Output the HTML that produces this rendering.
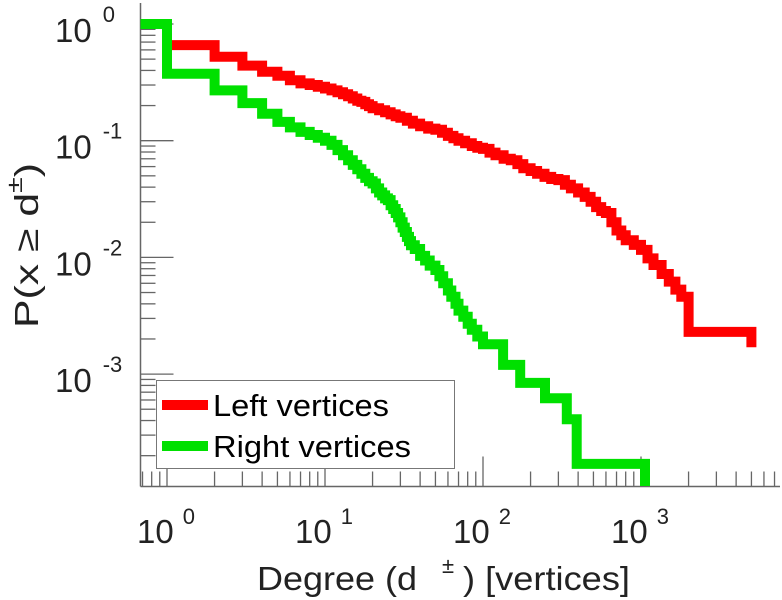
<!DOCTYPE html>
<html><head><meta charset="utf-8"><style>
html,body{margin:0;padding:0;background:#fff;}
svg{display:block;font-family:"Liberation Sans",sans-serif;}
</style></head><body>
<svg id="chart" width="782" height="600" viewBox="0 0 782 600" xmlns="http://www.w3.org/2000/svg">
<g id="axes"></g>
<g id="series"></g>
<g id="legend">
  <rect x="156.5" y="380.5" width="298" height="88" fill="#fff" stroke="#777" stroke-width="1"/>
  <line x1="162" y1="405" x2="208" y2="405" stroke="#ff0000" stroke-width="10"/>
  <text x="213" y="416" font-size="31" textLength="176" lengthAdjust="spacingAndGlyphs" fill="#000">Left vertices</text>
  <line x1="162" y1="446" x2="208" y2="446" stroke="#00e000" stroke-width="10"/>
  <text x="213" y="457" font-size="31" textLength="198" lengthAdjust="spacingAndGlyphs" fill="#000">Right vertices</text>
</g>
<g fill="#222">
  <text x="257" y="590" font-size="33" textLength="160" lengthAdjust="spacingAndGlyphs">Degree (d</text>
  <text x="442" y="573" font-size="22">±</text>
  <text x="463" y="590" font-size="33" textLength="167" lengthAdjust="spacingAndGlyphs">) [vertices]</text>
</g>
<text transform="translate(38,328) rotate(-90)" font-size="33" fill="#222" textLength="165" lengthAdjust="spacingAndGlyphs">P(x ≥ d<tspan font-size="22" dy="-16">±</tspan><tspan dy="16">)</tspan></text>
</svg>
<script>
// ---- data ----
const redDegrees = [0.68, 1, 2, 3, 4, 5, 6, 7, 8, 9, 10, 11, 12, 13, 14, 15, 16, 17, 18, 19, 20, 22, 24, 26, 28, 30, 33, 36, 40, 45, 50, 55, 60, 65, 70, 77, 85, 92, 100, 110, 120, 135, 150, 165, 180, 200, 220, 245, 270, 300, 330, 360, 400, 440, 480, 520, 560, 600, 650, 700, 750, 800, 900, 1000, 1100, 1200, 1350, 1500, 1650, 1800, 2000, 5000];
const redValues  = [1.0, 0.66, 0.525, 0.44, 0.39, 0.36, 0.33, 0.31, 0.30, 0.29, 0.28, 0.27, 0.26, 0.25, 0.24, 0.23, 0.22, 0.215, 0.205, 0.198, 0.19, 0.182, 0.175, 0.168, 0.162, 0.157, 0.148, 0.14, 0.133, 0.127, 0.124, 0.117, 0.11, 0.105, 0.10, 0.095, 0.09, 0.087, 0.085, 0.079, 0.075, 0.07, 0.068, 0.063, 0.058, 0.055, 0.052, 0.049, 0.047, 0.046, 0.042, 0.039, 0.036, 0.033, 0.030, 0.027, 0.025, 0.024, 0.020, 0.017, 0.0155, 0.014, 0.0128, 0.0116, 0.0098, 0.0086, 0.0072, 0.0062, 0.0053, 0.0046, 0.0023, 0.0017];
const greenDegrees = [0.68, 1, 2, 3, 4, 5, 6, 7, 8, 9, 10, 11, 12, 13, 14, 15, 16, 17, 18, 19, 20, 21, 22, 23, 24, 25, 26, 27, 28, 29, 30, 31, 32, 33, 34, 35, 37, 40, 43, 46, 50, 53, 56, 60, 63, 67, 70, 75, 80, 85, 92, 100, 134, 172, 247, 339, 392, 1060];
const greenValues  = [1.0, 0.375, 0.27, 0.21, 0.17, 0.145, 0.13, 0.119, 0.112, 0.106, 0.10, 0.092, 0.083, 0.075, 0.068, 0.062, 0.057, 0.052, 0.048, 0.045, 0.043, 0.039, 0.036, 0.034, 0.032, 0.031, 0.028, 0.026, 0.024, 0.022, 0.020, 0.018, 0.0165, 0.015, 0.0138, 0.0127, 0.0118, 0.0103, 0.0094, 0.0085, 0.0078, 0.0069, 0.006, 0.0052, 0.0046, 0.0040, 0.0035, 0.0031, 0.0027, 0.0024, 0.0021, 0.0018, 0.0012, 0.00084, 0.00062, 0.00041, 0.00017, 0.00011];
const xTickExponents = [0, 1, 2, 3];
const yTickExponents = [0, -1, -2, -3];

// ---- axis functions ----
const X0 = 167, XDEC = 158, Y0 = 24, YDEC = 116.7;
const LEFT = 140.5, BOTTOM = 486.5, RIGHT = 780, TOP = 3;
function sx(d){ return X0 + Math.log10(d) * XDEC; }
function sy(p){ return Y0 - Math.log10(p) * YDEC; }
const NS = "http://www.w3.org/2000/svg";
function mk(tag, attrs, parent){
  const e = document.createElementNS(NS, tag);
  for (const k in attrs) e.setAttribute(k, attrs[k]);
  parent.appendChild(e); return e;
}
const axes = document.getElementById('axes');
const series = document.getElementById('series');
const grey = "#666";

let yl = mk('line', {x1:LEFT, y1:TOP, x2:LEFT, y2:BOTTOM, stroke:grey, 'stroke-width':1.5}, axes);


let xl = mk('line', {x1:LEFT, y1:BOTTOM, x2:RIGHT, y2:BOTTOM, stroke:grey, 'stroke-width':1.5}, axes);



for (let e = 1; e >= -4; e--) {
  for (let m = 1; m <= 9; m++) {
    const v = m * Math.pow(10, e);
    const y = sy(v);
    if (y < TOP || y > BOTTOM) continue;
    const len = (m === 1) ? 33 : 15;
    const t = mk('line', {x1:LEFT, y1:y, x2:LEFT+len, y2:y, stroke:grey, 'stroke-width':1.3}, axes);
    
    
  }
}
for (let e = -1; e <= 4; e++) {
  for (let m = 1; m <= 9; m++) {
    const v = m * Math.pow(10, e);
    const x = sx(v);
    if (x < LEFT || x > RIGHT) continue;
    const len = (m === 1) ? 30 : 15;
    const t = mk('line', {x1:x, y1:BOTTOM, x2:x, y2:BOTTOM-len, stroke:grey, 'stroke-width':1.3}, axes);
    
    
  }
}
yTickExponents.forEach(e => {
  const y = sy(Math.pow(10, e));
  const t = mk('text', {x:55, y:y+18, 'font-size':33, fill:'#222'}, axes);
  
  
  t.textContent = '10';
  const s = mk('tspan', {dx:11, dy:-20, 'font-size':22}, t);
  s.textContent = String(e);
});
xTickExponents.forEach(e => {
  const x = sx(Math.pow(10, e));
  const t = mk('text', {x:x-30, y:543, 'font-size':33, fill:'#222'}, axes);
  
  
  t.textContent = '10';
  const s = mk('tspan', {dx:9, dy:-19, 'font-size':22}, t);
  s.textContent = String(e);
});

function stairs(ds, vs){
  let p = 'M' + sx(ds[0]).toFixed(1) + ',' + sy(vs[0]).toFixed(1);
  for (let i = 1; i < ds.length; i++) {
    const x = sx(ds[i]).toFixed(1);
    p += ' L' + x + ',' + sy(vs[i-1]).toFixed(1) + ' L' + x + ',' + sy(vs[i]).toFixed(1);
  }
  return p;
}
const r = mk('path', {d:stairs(redDegrees, redValues), fill:'none', stroke:'#ff0000', 'stroke-width':10, 'stroke-linejoin':'miter', 'stroke-linecap':'butt'}, series);


const g = mk('path', {d:stairs(greenDegrees, greenValues), fill:'none', stroke:'#00e000', 'stroke-width':10, 'stroke-linejoin':'miter', 'stroke-linecap':'butt'}, series);


</script>
</body></html>
